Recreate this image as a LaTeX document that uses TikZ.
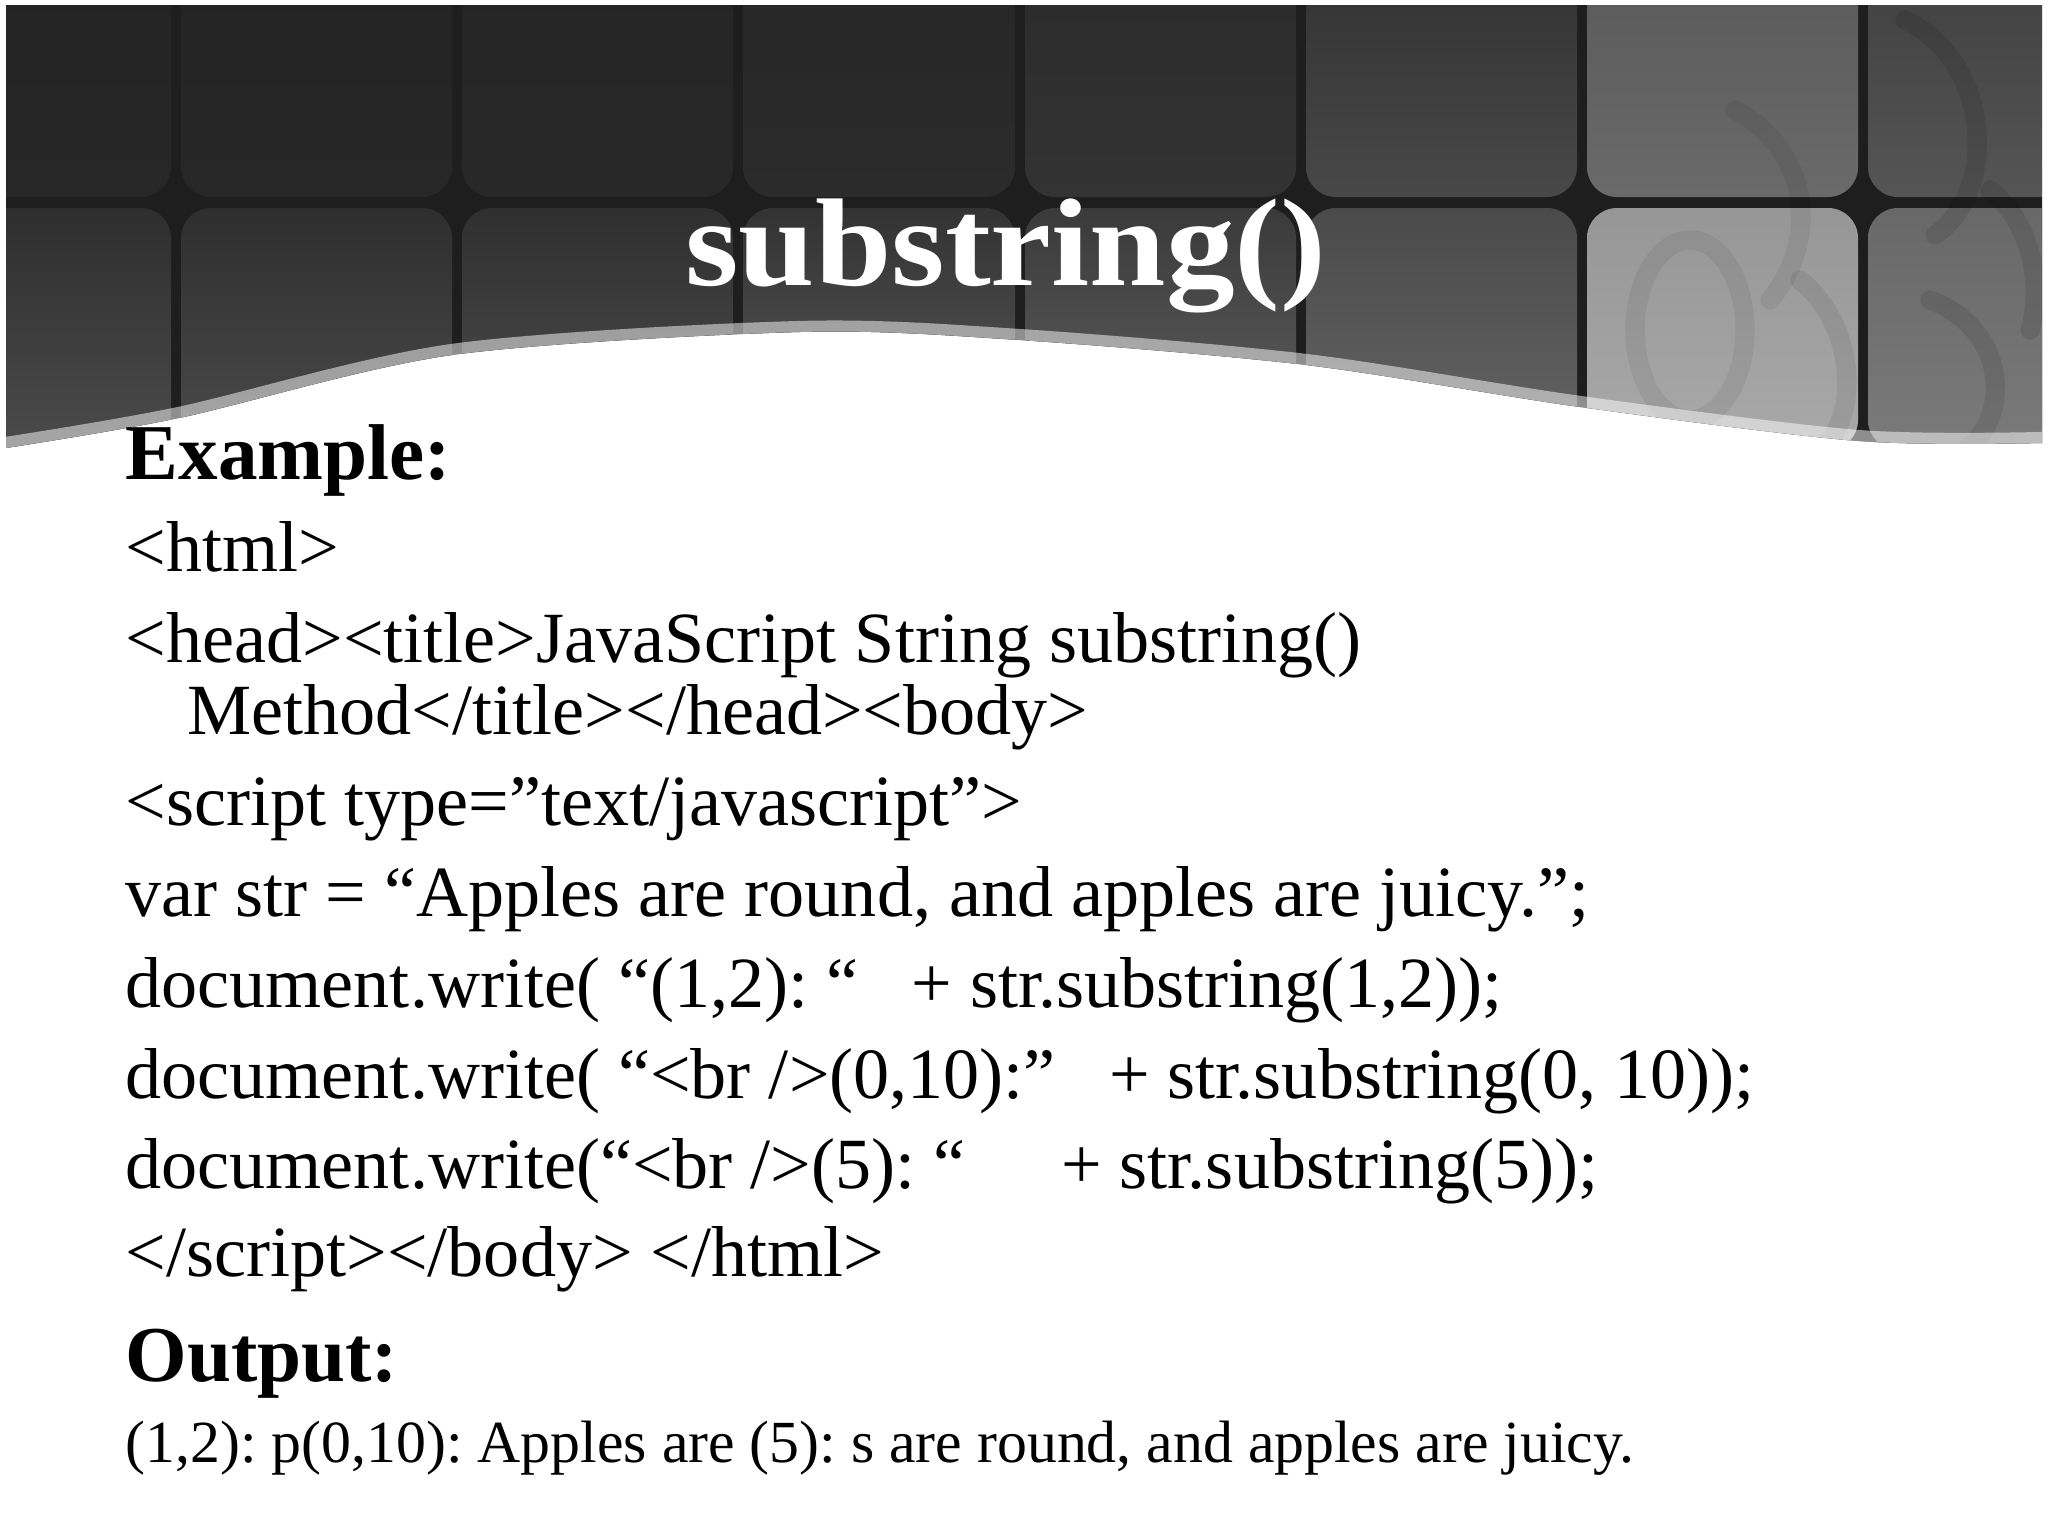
\documentclass[tikz,border=0pt]{standalone}
\usepackage{fontspec}
\setmainfont{Liberation Serif}
\newfontfamily\titlefont[FakeStretch=1.1]{Liberation Serif}
\frenchspacing

\definecolor{gapgray}{HTML}{1E1E1E}

\tikzset{
  titletext/.style={anchor=base, inner sep=0pt, text=white,
    font=\titlefont\fontsize{35.5}{40}\selectfont\bfseries},
  headline/.style={anchor=base west, inner sep=0pt,
    font=\fontsize{22.5}{26}\selectfont\bfseries},
  codeline/.style={anchor=base west, inner sep=0pt,
    font=\fontsize{20.5}{24}\selectfont},
  resultline/.style={anchor=base west, inner sep=0pt,
    font=\fontsize{17}{20}\selectfont},
  swirl/.style={line width=5.5pt, line cap=round, opacity=0.09},
}

\begin{document}
\begin{tikzpicture}[x=0.01cm, y=-0.01cm]
		\useasboundingbox (0,0) rectangle (2048,1536);
		\fill[white] (0,0) rectangle (2048,1536);
		% header with tiles
		\begin{scope}
		\clip plot[smooth] coordinates {(6,448) (179,418) (452,355) (800,332) (1019,340) (1306,365) (1580,407) (1858,441) (2042,443)}
			-- (2042,5) -- (6,5) -- cycle;
		\fill[gapgray] (0,0) rectangle (2048,470);
		\foreach \xl/\xr/\ut/\ub/\lt/\lb in {
			-100/171/232323/272727/2E2E2E/4B4B4B,
			181/452/232323/272727/2E2E2E/4B4B4B,
			462/733/242424/282828/2F2F2F/4E4E4E,
			743/1015/252525/2B2B2B/333333/585858,
			1025/1296/282828/333333/3A3A3A/606060,
			1306/1577/2C2C2C/484848/4A4A4A/646464,
			1587/1858/555555/6A6A6A/969696/A9A9A9,
			1868/2150/3A3A3A/555555/686868/7A7A7A}{
			\definecolor{ut}{HTML}{\ut}
			\definecolor{ub}{HTML}{\ub}
			\definecolor{lt}{HTML}{\lt}
			\definecolor{lb}{HTML}{\lb}
			\shade[top color=ut, bottom color=ub, rounded corners=8.5pt] (\xl,-100) rectangle (\xr,197);
			\shade[top color=lt, bottom color=lb, rounded corners=8.5pt] (\xl,208) rectangle (\xr,450);
		}
		\draw[swirl] (1905,20) .. controls (1990,60) and (2000,190) .. (1935,235);
		\draw[swirl] (1930,300) .. controls (2010,330) and (2010,420) .. (1965,450);
		\draw[swirl] (1990,190) .. controls (2040,230) and (2040,300) .. (2030,330);
		\draw[swirl, opacity=0.06] (1735,110) .. controls (1810,150) and (1820,240) .. (1770,300);
		\draw[swirl, opacity=0.06] (1690,330) ellipse (55 and 90);
		\draw[swirl, opacity=0.07] (1800,280) .. controls (1850,320) and (1860,400) .. (1830,440);
		\draw[white, opacity=0.5, line width=6.3pt] plot[smooth] coordinates {(6,448) (179,418) (452,355) (800,332) (1019,340) (1306,365) (1580,407) (1858,441) (2042,443)};
		\end{scope}
		\node[titletext] (title) at (1006,285) {substring()};
		% slide text
		\node[headline] (example) at (125,479) {Example:};
		\node[codeline] (html) at (125,571) {<html>};
		\node[codeline] (head) at (125,662) {<head><title>JavaScript String substring()};
		\node[codeline] (method) at (187,734) {Method</title></head><body>};
		\node[codeline] (script) at (125,825) {<script type=”text/javascript”>};
		\node[codeline] (var) at (125,916) {var str = “Apples are round, and apples are juicy.”;};
		\node[codeline] (write1) at (125,1007) {document.write( “(1,2): “\hspace{10pt} + str.substring(1,2));};
		\node[codeline] (write2) at (125,1098) {document.write( “<br />(0,10):”\hspace{10pt} + str.substring(0, 10));};
		\node[codeline] (write3) at (125,1188) {document.write(“<br />(5): “\hspace{22pt} + str.substring(5));};
		\node[codeline] (close) at (125,1276) {</script></body> </html>};
		\node[headline] (output) at (125,1381) {Output:};
		\node[resultline] (result) at (125,1462) {(1,2): p(0,10): Apples are (5): s are round, and apples are juicy.};
	\end{tikzpicture}
\end{document}
